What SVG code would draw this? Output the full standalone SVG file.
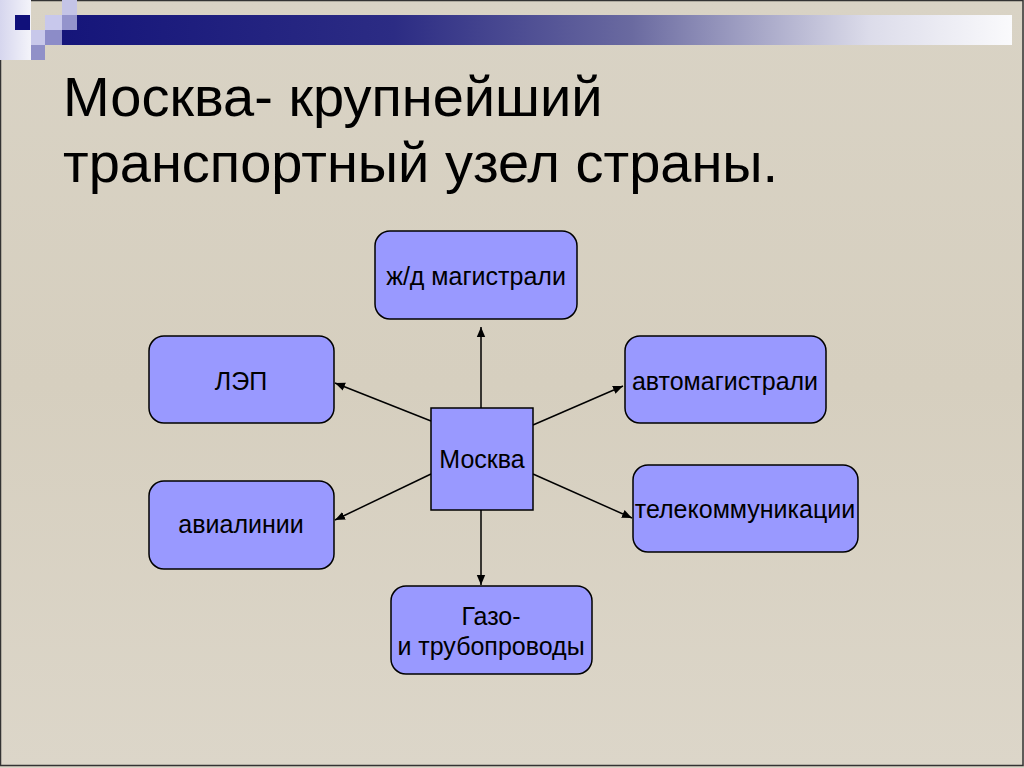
<svg xmlns="http://www.w3.org/2000/svg" width="1024" height="768" viewBox="0 0 1024 768">
  <defs>
    <linearGradient id="bar" x1="0" y1="0" x2="1" y2="0">
      <stop offset="0" stop-color="#15157a"/>
      <stop offset="0.35" stop-color="#2c2c84"/>
      <stop offset="0.6" stop-color="#6a6aa0"/>
      <stop offset="0.85" stop-color="#dcdcea"/>
      <stop offset="1" stop-color="#fafafc"/>
    </linearGradient>
    <linearGradient id="strip" x1="0" y1="0" x2="1" y2="0">
      <stop offset="0" stop-color="#d6d6ee"/>
      <stop offset="1" stop-color="#f4f4fa"/>
    </linearGradient>
    <linearGradient id="bg" x1="0" y1="0" x2="0" y2="1">
      <stop offset="0" stop-color="#d9d3c5"/>
      <stop offset="0.5" stop-color="#d6cfbf"/>
      <stop offset="1" stop-color="#dcd6c9"/>
    </linearGradient>
    <marker id="arr" viewBox="0 0 10 10" refX="10" refY="5" markerWidth="10" markerHeight="10" markerUnits="userSpaceOnUse" orient="auto">
      <path d="M0,0.8 L10,5 L0,9.2 Z" fill="#000"/>
    </marker>
    <style>
      .node { fill: #9999ff; stroke: #000; stroke-width: 1.5; }
      .lbl { font-family: "Liberation Sans", Arial, sans-serif; font-size: 25px; fill: #000; text-anchor: middle; }
      .title { font-family: "Liberation Sans", Arial, sans-serif; font-size: 56px; fill: #000; }
      .conn { stroke: #000; stroke-width: 1.5; fill: none; marker-end: url(#arr); }
    </style>
  </defs>

  <rect x="0" y="0" width="1024" height="768" fill="url(#bg)"/>
  <rect x="0.5" y="0.5" width="1022.5" height="765" fill="none" stroke="#333" stroke-width="1.5"/>

  <g id="decoration">
    <rect x="62" y="15" width="950" height="30" fill="url(#bar)"/>
    <rect x="0" y="0" width="31" height="60" fill="url(#strip)"/>
    <rect x="15" y="15" width="15" height="15" fill="#10107a"/>
    <rect x="62" y="0" width="15" height="15" fill="#c4c4e6"/>
    <rect x="45" y="15" width="17" height="15" fill="#c8c8ec"/>
    <rect x="62" y="15" width="15" height="15" fill="#9494cc"/>
    <rect x="31" y="30" width="14" height="15" fill="#c8c8ea"/>
    <rect x="45" y="30" width="17" height="15" fill="#8c8cc8"/>
    <rect x="31" y="45" width="14" height="15" fill="#9090c8"/>
  </g>

  <g id="title">
    <text class="title" x="63" y="116">Москва- крупнейший</text>
    <text class="title" x="63" y="182">транспортный узел страны.</text>
  </g>

  <g id="connectors">
    <line class="conn" x1="481" y1="408" x2="481" y2="327"/>
    <line class="conn" x1="431" y1="421" x2="335" y2="383"/>
    <line class="conn" x1="431" y1="474" x2="335" y2="520"/>
    <line class="conn" x1="533" y1="425" x2="623" y2="386"/>
    <line class="conn" x1="533" y1="474" x2="632" y2="518"/>
    <line class="conn" x1="481" y1="510" x2="481" y2="585"/>
  </g>

  <g id="node-rail">
    <rect class="node" x="375" y="231" width="202" height="88" rx="15"/>
    <text class="lbl" x="476" y="285">ж/д магистрали</text>
  </g>
  <g id="node-lep">
    <rect class="node" x="149" y="336" width="185" height="87" rx="15"/>
    <text class="lbl" x="241" y="390">ЛЭП</text>
  </g>
  <g id="node-auto">
    <rect class="node" x="625" y="336" width="201" height="87" rx="15"/>
    <text class="lbl" x="725" y="390">автомагистрали</text>
  </g>
  <g id="node-avia">
    <rect class="node" x="149" y="481" width="185" height="88" rx="15"/>
    <text class="lbl" x="241" y="533">авиалинии</text>
  </g>
  <g id="node-telecom">
    <rect class="node" x="633" y="465" width="225" height="87" rx="15"/>
    <text class="lbl" x="745" y="518">телекоммуникации</text>
  </g>
  <g id="node-gas">
    <rect class="node" x="391" y="586" width="201" height="88" rx="15"/>
    <text class="lbl" x="491" y="625">Газо-</text>
    <text class="lbl" x="491" y="655">и трубопроводы</text>
  </g>
  <g id="node-moscow">
    <rect class="node" x="431" y="408" width="102" height="102"/>
    <text class="lbl" x="482" y="468">Москва</text>
  </g>
</svg>
